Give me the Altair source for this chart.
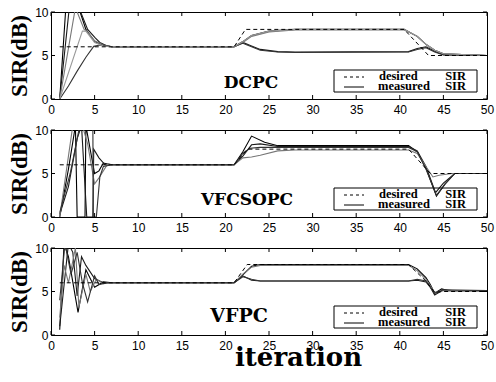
import altair as alt
import pandas as pd

# ---------------- data ----------------
iteration_ticks = [0, 5, 10, 15, 20, 25, 30, 35, 40, 45, 50]
sir_ticks = [0, 5, 10]
panel_names = ["DCPC", "VFCSOPC", "VFPC"]
legend_words = ["desired", "measured", "SIR"]

# DCPC
dcpc_desired_x = [1, 21, 22.3, 40.5, 43.3, 50]
dcpc_desired_y = [6, 6, 8, 8, 5, 5]
dcpc_m1_x = [1, 1.7, 2.2, 3, 4, 5, 6, 7, 21, 22, 23, 25, 28, 40.5, 42, 43.1, 44, 45, 50]
dcpc_m1_y = [0, 10.5, 11.5, 11, 8, 6.6, 6.2, 6, 6, 6.6, 7.3, 7.8, 8, 8, 7.2, 6.2, 5.6, 5.2, 5]
dcpc_m2_x = [1, 2.1, 3.2, 4.2, 5.1, 5.6, 6.5, 7, 21, 22, 23, 24, 26, 28, 41, 42, 43, 44, 45, 50]
dcpc_m2_y = [0, 10.5, 10.5, 8, 7, 6.5, 6.05, 6, 6, 6.5, 6.1, 5.7, 5.45, 5.4, 5.45, 5.8, 6.0, 5.5, 5.1, 5]
dcpc_m3_x = [1, 2.8, 3.8, 4.1, 5, 6, 7, 21, 22, 23, 25, 28, 40.5, 42, 43.1, 44, 45, 50]
dcpc_m3_y = [0, 10.5, 8, 7.8, 6.7, 6.2, 6, 6, 6.5, 7.2, 7.7, 7.95, 7.95, 7.2, 6.2, 5.6, 5.2, 5]
dcpc_m4_x = [1, 2, 3, 4, 4.9, 5.6, 6.5, 7, 21, 22, 23, 24, 26, 28, 41, 42, 43, 44, 45, 50]
dcpc_m4_y = [0, 1.5, 3.2, 4.8, 6.05, 6.2, 6.1, 6, 6, 6.4, 6.0, 5.6, 5.4, 5.35, 5.4, 5.7, 5.9, 5.4, 5.05, 5]
dcpc_m5_x = [1, 3.6, 4.0, 5, 6, 7, 21, 22, 23, 25, 28, 40.5, 42, 43.1, 44, 45, 50]
dcpc_m5_y = [0, 7.8, 7.8, 6.5, 6.1, 6, 6, 6.6, 7.3, 7.8, 8, 8, 7.2, 6.2, 5.6, 5.2, 5]

# VFCSOPC
vfcs_desired_x = [1, 21, 22.5, 41, 43.5, 50]
vfcs_desired_y = [6, 6, 7.8, 7.8, 5, 5]
vfcs_m1_x = [1, 2, 2.8, 3.0, 3.9, 4.0, 5, 5.5, 6, 7, 21, 22, 23, 24.5, 26, 41, 42, 43, 44.2, 45.2, 46.3, 50]
vfcs_m1_y = [0, 5.5, 10.5, 0, 0, 10.5, 5, 5.3, 6.2, 6, 6, 7.5, 9.3, 8.6, 8.2, 8.2, 7.5, 5.6, 2.4, 3.8, 5.0, 5.0]
vfcs_m2_x = [1, 2, 3, 3.5, 4.1, 4.8, 4.9, 5.5, 6.2, 7, 21, 22, 23, 24, 26, 41, 42, 43, 44.1, 45, 46.3, 50]
vfcs_m2_y = [0.3, 3.5, 9, 10.5, 0, 0, 7.8, 6.8, 6, 6, 6, 7.0, 8.3, 8.4, 8.1, 8.1, 7.6, 5.8, 2.8, 3.9, 5.0, 5.0]
vfcs_m3_x = [1, 2, 2.5, 3.6, 4.2, 5, 5.5, 6.5, 7, 21, 22, 23, 24, 26, 28, 41, 42, 43, 43.8, 44.5, 46, 50]
vfcs_m3_y = [0, 7, 10.5, 10.5, 8.4, 3.8, 4.5, 6.1, 6, 6, 6.8, 6.9, 7.1, 7.6, 7.7, 7.7, 7.3, 5.8, 4.6, 4.8, 5.0, 5.0]
vfcs_m4_x = [1, 2.2, 3.3, 4.0, 4.8, 4.85, 5.2, 5.6, 6, 7, 21, 22, 22.8, 24, 41, 42, 43, 44.2, 45.2, 46.3, 50]
vfcs_m4_y = [0.5, 5, 10.5, 10.5, 10.5, 0, 0, 4.6, 5.8, 6, 6, 7.3, 7.9, 8.0, 8.0, 7.5, 5.5, 2.5, 3.8, 5.0, 5.0]

# VFPC
vfpc_desired_x = [1, 21, 22.5, 41, 43, 44, 45, 50]
vfpc_desired_y = [6, 6, 8.1, 8.1, 6.2, 4.9, 5, 5]
vfpc_m1_x = [1, 1.5, 2, 3.1, 4, 5, 6, 7, 21, 22, 23, 24, 41, 42, 43, 43.5, 44, 44.8, 45.5, 50]
vfpc_m1_y = [0.6, 10.5, 9, 2.6, 7.5, 5.5, 6.1, 6, 6, 6.9, 7.9, 8.1, 8.1, 7.6, 6.6, 5.8, 4.8, 5.3, 5.1, 5.1]
vfpc_m2_x = [1, 2, 2.5, 3, 3.5, 4, 5, 6, 7, 21, 22, 23, 24, 41, 42, 43, 43.5, 44, 45, 46, 50]
vfpc_m2_y = [1, 10.5, 9.5, 4.5, 9, 8, 6.5, 6, 6, 6, 6.8, 6.3, 6.2, 6.2, 6.3, 6.1, 5.5, 4.6, 5.2, 5.1, 5.1]
vfpc_m3_x = [1, 1.5, 2, 2.8, 3.2, 4, 4.5, 5.2, 6, 7, 21, 22, 23, 24, 41, 42, 43, 44, 45, 50]
vfpc_m3_y = [2, 8, 6, 10, 3.2, 7, 5, 6.4, 5.9, 6, 6, 7.0, 7.8, 8.0, 8.0, 7.4, 6.4, 4.9, 5.1, 5.1]
vfpc_m4_x = [1, 1.6, 2.3, 3, 3.6, 4.2, 5, 5.5, 6.5, 7, 21, 22, 23, 24, 41, 42, 43, 44, 45, 50]
vfpc_m4_y = [4, 10.5, 7, 9.5, 6, 3.8, 6.8, 5.8, 6, 6, 6, 6.7, 6.4, 6.2, 6.2, 6.4, 6.2, 4.8, 5.2, 5.1]

# ---------------- styling ----------------
W, H = 436, 87
line_colors = ["#000000", "#1a1a1a", "#777777", "#333333", "#999999"]
SERIF = "Liberation Serif"
SANS = "Liberation Sans"


def series_df(series):
    rows = []
    for name, xs, ys in series:
        for i, (x, y) in enumerate(zip(xs, ys)):
            rows.append({"s": name, "x": x, "y": y, "i": i})
    return pd.DataFrame(rows)


xscale = alt.Scale(domain=[0, 50], nice=False, zero=False)
yscale = alt.Scale(domain=[0, 10], nice=False)


def panel(label, measured, desired, label_x, label_y, label_size, last):
    mdf = series_df(measured)
    ddf = series_df(desired)
    names = [m[0] for m in measured]

    xa = dict(values=iteration_ticks, format="d", grid=False, domain=False,
              tickSize=0, labelPadding=5, labelFlush=False,
              labelFont=SANS, labelFontSize=12, labelColor="black")
    if last:
        xa.update(title="iteration", titleFont="DejaVu Serif", titleFontSize=26,
                  titleFontWeight="bold", titleColor="black", titleX=247, titleY=30,
                  titleAlign="center", titleBaseline="alphabetic")
    else:
        xa.update(title=None)
    ya = dict(values=sir_ticks, format="d", grid=False, domain=False,
              tickSize=0, labelPadding=3, labelFont=SANS, labelFontSize=12,
              labelColor="black", title="SIR(dB)", titleFont=SERIF,
              titleFontSize=23, titleFontWeight="bold", titleColor="black",
              titlePadding=3)

    X = alt.X("x:Q", scale=xscale)
    Y = alt.Y("y:Q", scale=yscale)

    meas = alt.Chart(mdf).mark_line(clip=True, strokeWidth=1.1).encode(
        x=alt.X("x:Q", scale=xscale, axis=alt.Axis(**xa)),
        y=alt.Y("y:Q", scale=yscale, axis=alt.Axis(**ya)),
        order="i:Q",
        color=alt.Color("s:N", scale=alt.Scale(domain=names, range=line_colors[:len(names)]), legend=None),
    )
    des = alt.Chart(ddf).mark_line(clip=True, strokeDash=[4, 3], color="black", strokeWidth=1).encode(
        x=X, y=Y, order="i:Q",
    )

    tx = pd.DataFrame({"x": iteration_ticks})
    ty = pd.DataFrame({"y": sir_ticks})
    top_t = alt.Chart(tx).mark_rule(color="black").encode(x=X, y=alt.value(0), y2=alt.value(4))
    bot_t = alt.Chart(tx).mark_rule(color="black").encode(x=X, y=alt.value(H), y2=alt.value(H - 4))
    left_t = alt.Chart(ty).mark_rule(color="black").encode(y=Y, x=alt.value(0), x2=alt.value(4))
    right_t = alt.Chart(ty).mark_rule(color="black").encode(y=Y, x=alt.value(W), x2=alt.value(W - 4))

    lab = alt.Chart(pd.DataFrame({"t": [label]})).mark_text(
        font="DejaVu Serif", fontWeight="bold", fontSize=label_size,
        align="center", baseline="alphabetic", color="black").encode(
        x=alt.value(label_x), y=alt.value(label_y), text="t:N")

    one = pd.DataFrame({"a": [0]})
    box = alt.Chart(one).mark_rect(fillOpacity=0, stroke="black", strokeWidth=1).encode(
        x=alt.value(283), x2=alt.value(426), y=alt.value(58), y2=alt.value(80))
    l_dash = alt.Chart(one).mark_rule(color="black", strokeDash=[3, 3]).encode(
        x=alt.value(293), x2=alt.value(313), y=alt.value(65))
    l_solid = alt.Chart(one).mark_rule(color="black").encode(
        x=alt.value(293), x2=alt.value(313), y=alt.value(75))

    def word(txt, x, y, align):
        return alt.Chart(pd.DataFrame({"t": [txt]})).mark_text(
            font=SERIF, fontWeight="bold", fontSize=12.5, align=align,
            baseline="alphabetic", color="black").encode(
            x=alt.value(x), y=alt.value(y), text="t:N")

    w1 = word(legend_words[0], 328, 68, "left")
    w2 = word(legend_words[2], 415, 68, "right")
    w3 = word(legend_words[1], 327, 78, "left")
    w4 = word(legend_words[2], 415, 78, "right")

    return alt.layer(meas, des, top_t, bot_t, left_t, right_t, lab,
                     box, l_dash, l_solid, w1, w2, w3, w4).properties(width=W, height=H)


p1 = panel(panel_names[0],
           [("a", dcpc_m1_x, dcpc_m1_y), ("b", dcpc_m2_x, dcpc_m2_y), ("c", dcpc_m3_x, dcpc_m3_y),
            ("d", dcpc_m4_x, dcpc_m4_y), ("e", dcpc_m5_x, dcpc_m5_y)],
           [("des", dcpc_desired_x, dcpc_desired_y)], 200, 76, 17, False)
p2 = panel(panel_names[1],
           [("a", vfcs_m1_x, vfcs_m1_y), ("b", vfcs_m2_x, vfcs_m2_y), ("c", vfcs_m3_x, vfcs_m3_y),
            ("d", vfcs_m4_x, vfcs_m4_y)],
           [("des", vfcs_desired_x, vfcs_desired_y)], 196, 75, 17, False)
p3 = panel(panel_names[2],
           [("a", vfpc_m1_x, vfpc_m1_y), ("b", vfpc_m2_x, vfpc_m2_y), ("c", vfpc_m3_x, vfpc_m3_y),
            ("d", vfpc_m4_x, vfpc_m4_y)],
           [("des", vfpc_desired_x, vfpc_desired_y)], 188, 74, 19, True)

chart = alt.vconcat(p1, p2, p3, spacing=7).properties(
    padding={"left": 8, "top": 5, "right": 0, "bottom": 0},
    background="white",
).configure_view(stroke="black", strokeWidth=1)

chart.save("out.html", embed_options={"renderer": "svg", "actions": False})
